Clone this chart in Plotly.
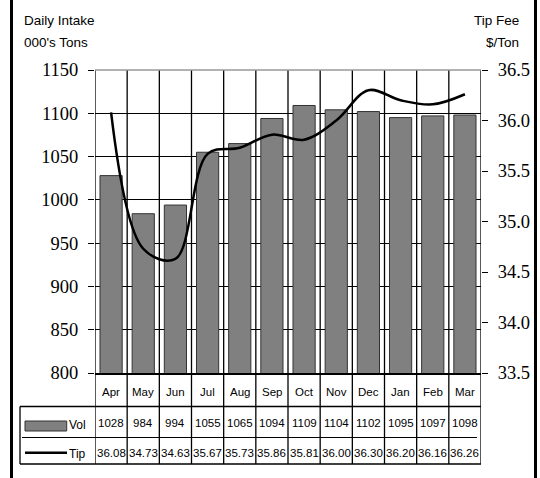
import plotly.graph_objects as go

months = ["Apr", "May", "Jun", "Jul", "Aug", "Sep", "Oct", "Nov", "Dec", "Jan", "Feb", "Mar"]
vol = [1028, 984, 994, 1055, 1065, 1094, 1109, 1104, 1102, 1095, 1097, 1098]
tip = [36.08, 34.73, 34.63, 35.67, 35.73, 35.86, 35.81, 36.00, 36.30, 36.20, 36.16, 36.26]

W, H = 540, 478
L, R, T, B = 95, 481, 70, 373
pw, ph = R - L, B - T

def px(x):
    return (x - L) / pw

def py(y):
    return (B - y) / ph

SERIF = "Liberation Serif, Times New Roman, serif"
NARROW = "Liberation Sans Narrow, Arial Narrow, Liberation Sans, Arial, sans-serif"
SANS = "Liberation Sans, Arial, sans-serif"
TF = 11.5

fig = go.Figure()
fig.add_trace(go.Bar(x=months, y=vol, marker=dict(color="#808080", line=dict(color="#333333", width=1)),
                     width=0.69, yaxis="y", showlegend=False))
fig.add_trace(go.Scatter(x=months, y=tip, mode="lines", line=dict(color="black", width=2.5, shape="spline", smoothing=1.0),
                         yaxis="y2", showlegend=False))

shapes = []
ann = []
for i in range(len(months) + 1):
    shapes.append(dict(type="line", xref="x", yref="paper", x0=i - 0.5, x1=i - 0.5, y0=1, y1=py(464),
                       line=dict(color="black", width=1.3), layer="above"))
shapes.append(dict(type="line", xref="paper", yref="paper", x0=0, x1=1, y0=1, y1=1, line=dict(color="#999999", width=1.5)))
shapes.append(dict(type="line", xref="paper", yref="paper", x0=px(20), x1=1, y0=py(406.5), y1=py(406.5), line=dict(color="black", width=1.3)))
shapes.append(dict(type="line", xref="paper", yref="paper", x0=px(20), x1=1, y0=py(464), y1=py(464), line=dict(color="black", width=1.3)))
shapes.append(dict(type="line", xref="paper", yref="paper", x0=px(22), x1=px(477), y0=py(437.5), y1=py(437.5), line=dict(color="black", width=1)))
shapes.append(dict(type="line", xref="paper", yref="paper", x0=px(20), x1=px(20), y0=py(406.5), y1=py(464), line=dict(color="black", width=1.3)))
shapes.append(dict(type="rect", xref="paper", yref="paper", x0=px(25), x1=px(66.7), y0=py(421), y1=py(431),
                   fillcolor="#808080", line=dict(color="#333333", width=1)))
shapes.append(dict(type="line", xref="paper", yref="paper", x0=px(25), x1=px(67), y0=py(452.7), y1=py(452.7),
                   line=dict(color="black", width=2.5)))
for xf in (11.5, 535.5):
    shapes.append(dict(type="line", xref="paper", yref="paper", x0=px(xf), x1=px(xf), y0=py(0), y1=py(478),
                       line=dict(color="black", width=3)))

for m, v, t in zip(months, vol, tip):
    ann.append(dict(x=m, xref="x", y=py(392), yref="paper", text=m, showarrow=False,
                    font=dict(family=NARROW, size=TF, color="black"), xanchor="center", yanchor="middle"))
    ann.append(dict(x=m, xref="x", y=py(423), yref="paper", text=str(v), showarrow=False,
                    font=dict(family=NARROW, size=TF, color="black"), xanchor="center", yanchor="middle"))
    ann.append(dict(x=m, xref="x", y=py(453), yref="paper", text=f"{t:.2f}", showarrow=False,
                    font=dict(family=NARROW, size=TF, color="black"), xanchor="center", yanchor="middle"))

ann.append(dict(x=px(67), xref="paper", y=py(425), yref="paper", text="Vol", showarrow=False,
                font=dict(family=NARROW, size=12, color="black"), xanchor="left", yanchor="middle"))
ann.append(dict(x=px(67), xref="paper", y=py(454), yref="paper", text="Tip", showarrow=False,
                font=dict(family=NARROW, size=12, color="black"), xanchor="left", yanchor="middle"))

for txt, yy in (("Daily Intake", 21), ("000's Tons", 43)):
    ann.append(dict(x=px(22), xref="paper", y=py(yy), yref="paper", text=txt, showarrow=False,
                    font=dict(family=SANS, size=13.5, color="black"), xanchor="left", yanchor="middle"))
for txt, yy in (("Tip Fee", 21), ("$/Ton", 43)):
    ann.append(dict(x=px(521), xref="paper", y=py(yy), yref="paper", text=txt, showarrow=False,
                    font=dict(family=SANS, size=13.5, color="black"), xanchor="right", yanchor="middle"))

fig.update_layout(
    width=W, height=H,
    margin=dict(l=L, r=W - R, t=T, b=H - B, pad=0, autoexpand=False),
    paper_bgcolor="white", plot_bgcolor="white",
    xaxis=dict(type="category", range=[-0.5, 11.5], showticklabels=False, showgrid=False, ticks="",
               showline=True, linecolor="black", linewidth=1.5, zeroline=False),
    yaxis=dict(range=[800, 1150], tickvals=[800, 850, 900, 950, 1000, 1050, 1100, 1150], ticks="outside", ticklen=6,
               tickcolor="black", tickwidth=1.3, showgrid=True, gridcolor="black", gridwidth=1, zeroline=False,
               showline=False, ticklabelstandoff=6, automargin=False,
               tickfont=dict(family=SERIF, size=18.5, color="black")),
    yaxis2=dict(range=[33.5, 36.5], tickvals=[33.5, 34.0, 34.5, 35.0, 35.5, 36.0, 36.5],
                ticktext=["33.5", "34.0", "34.5", "35.0", "35.5", "36.0", "36.5"],
                overlaying="y", side="right", ticks="outside", ticklen=6, tickcolor="black", tickwidth=1.3,
                showgrid=False, zeroline=False, showline=False, ticklabelstandoff=6, automargin=False,
                tickfont=dict(family=SERIF, size=18.5, color="black")),
    shapes=shapes, annotations=ann,
)

fig.write_html("out.html")
